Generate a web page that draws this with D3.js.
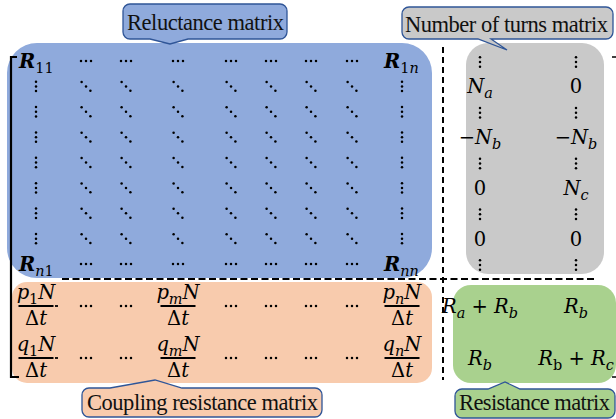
<!DOCTYPE html>
<html><head><meta charset="utf-8">
<script src="https://cdn.jsdelivr.net/npm/d3@7"></script>
<style>body{margin:0;background:#fff}svg{display:block}</style>
</head><body>
<svg id="chart" width="616" height="419"></svg>
<script>
// Block matrix of the coupled magnetic / electric circuit equations

const blockNames = ["Reluctance matrix", "Number of turns matrix", "Coupling resistance matrix", "Resistance matrix"];

// Reluctance block: corner entries, and the symbol used in every row (c = corner, h = ⋯, v = ⋮, d = ⋱)
const reluctanceCorners = ["R_{11}", "R_{1n}", "R_{n1}", "R_{nn}"];
const reluctancePattern = [
  ["c", "h", "h", "h", "h", "h", "h", "h", "c"],
  ["v", "d", "d", "d", "d", "d", "d", "d", "v"],
  ["v", "d", "d", "d", "d", "d", "d", "d", "v"],
  ["v", "d", "d", "d", "d", "d", "d", "d", "v"],
  ["v", "d", "d", "d", "d", "d", "d", "d", "v"],
  ["v", "d", "d", "d", "d", "d", "d", "d", "v"],
  ["v", "d", "d", "d", "d", "d", "d", "d", "v"],
  ["v", "d", "d", "d", "d", "d", "d", "d", "v"],
  ["c", "h", "h", "h", "h", "h", "h", "h", "c"]
];

// Number of turns block, two columns
const turnsColA = ["⋮", "N_{a}", "⋮", "−N_{b}", "⋮", "0", "⋮", "0", "⋮"];
const turnsColB = ["⋮", "0", "⋮", "−N_{b}", "⋮", "N_{c}", "⋮", "0", "⋮"];

// Coupling resistance block: numerators of the fractions, ⋯ between them
const couplingRowP = ["p_{1}N", "⋯", "⋯", "p_{m}N", "⋯", "⋯", "⋯", "⋯", "p_{n}N"];
const couplingRowQ = ["q_{1}N", "⋯", "⋯", "q_{m}N", "⋯", "⋯", "⋯", "⋯", "q_{n}N"];
const couplingDenominator = "Δt";

// Resistance block ([..] in a subscript = upright letters)
const resistanceRows = [
  ["R_{a} + R_{b}", "R_{b}"],
  ["R_{b}", "R_{[b]} + R_{c}"]
];

// ---------- layout ----------
const svg = d3.select("#chart");
const mathFont = "'DejaVu Serif', 'Liberation Serif', serif";
const mathSize = 19.5;

const colX = d3.scaleOrdinal().domain(d3.range(9)).range([36, 86, 126, 178, 231, 271, 311, 352, 402]);
const rowY = d3.scaleLinear().domain([0, 8]).range([61, 264]);
const rightColX = d3.scaleOrdinal().domain([0, 1]).range([480, 576]);
const lowerRowY = d3.scaleOrdinal().domain([0, 1]).range([306, 358]);

const colors = {
  blue: "#8faadc", gray: "#c9c9c9", orange: "#f8cbad", green: "#a9d18e", edge: "#2f5597"
};

// ---------- helpers ----------
function tokenize(str) {
  const out = [];
  let i = 0;
  while (i < str.length) {
    const ch = str[i];
    if (ch === "_" && str[i + 1] === "{") {
      const end = str.indexOf("}", i);
      const inner = str.slice(i + 2, end);
      let roman = false;
      for (const c of inner) {
        if (c === "[") { roman = true; continue; }
        if (c === "]") { roman = false; continue; }
        out.push({ t: c, italic: /[A-Za-z]/.test(c) && !roman, sub: true });
      }
      i = end + 1;
    } else {
      out.push({ t: ch, italic: /[A-Za-z]/.test(ch), sub: false });
      i++;
    }
  }
  return out;
}

function mathText(g, str, x, y, opts = {}) {
  const size = opts.size || mathSize;
  const t = g.append("text")
    .attr("x", x).attr("y", y)
    .attr("text-anchor", opts.anchor || "middle")
    .attr("font-family", mathFont)
    .attr("font-size", size)
    .attr("fill", "#000");
  const shift = size * 0.24;
  let inSub = false;
  tokenize(str).forEach(tok => {
    const s = t.append("tspan").text(tok.t === " " ? "\u00a0" : tok.t);
    if (tok.italic) s.attr("font-style", "italic");
    if (opts.bold && !tok.sub && tok.italic) s.attr("font-weight", "bold");
    if (tok.sub) s.attr("font-size", size * 0.74);
    if (tok.sub && !inSub) s.attr("dy", shift);
    if (!tok.sub && inSub) s.attr("dy", -shift);
    inSub = tok.sub;
  });
  return t;
}

const dotR = 1.25;
function dotOffsets(kind) {
  if (kind === "h") return [[-5, 0], [0, 0], [5, 0]];
  if (kind === "v") return [[0, -4.7], [0, 0], [0, 4.7]];
  return [[-4.4, -4.4], [0, 0], [4.4, 4.4]];
}
function drawDots(g, kind, cx, cy) {
  g.selectAll(null).data(dotOffsets(kind)).join("circle")
    .attr("cx", d => cx + d[0]).attr("cy", d => cy + d[1])
    .attr("r", dotR).attr("fill", "#000");
}

function roundedBox(g, x, y, w, h, r, fill) {
  g.append("rect").attr("x", x).attr("y", y).attr("width", w).attr("height", h)
    .attr("rx", r).attr("ry", r).attr("fill", fill);
}

function calloutPath(x, y, w, h, r, side, b1, tip, b2) {
  const p = d3.path();
  p.moveTo(x + r, y);
  if (side === "top") {
    p.lineTo(b1, y);
    p.lineTo(tip[0], tip[1]);
    p.lineTo(b2, y);
  }
  p.lineTo(x + w - r, y);
  p.arcTo(x + w, y, x + w, y + r, r);
  p.lineTo(x + w, y + h - r);
  p.arcTo(x + w, y + h, x + w - r, y + h, r);
  if (side === "bottom") {
    p.lineTo(b2, y + h);
    p.lineTo(tip[0], tip[1]);
    p.lineTo(b1, y + h);
  }
  p.lineTo(x + r, y + h);
  p.arcTo(x, y + h, x, y + h - r, r);
  p.lineTo(x, y + r);
  p.arcTo(x, y, x + r, y, r);
  p.closePath();
  return p.toString();
}

function callout(g, spec, fill) {
  g.append("path")
    .attr("d", calloutPath(spec.x, spec.y, spec.w, spec.h, 7, spec.side, spec.b1, spec.tip, spec.b2))
    .attr("fill", fill).attr("stroke", colors.edge).attr("stroke-width", 1.3);
  g.append("text")
    .attr("x", spec.tx).attr("y", spec.ty)
    .attr("font-family", "'Liberation Serif', serif")
    .attr("font-size", 22.5).attr("fill", "#111")
    .attr("textLength", spec.tw).attr("lengthAdjust", "spacing")
    .text(spec.label);
}

// ---------- background blocks ----------
const blocks = svg.append("g");
roundedBox(blocks, 7, 43, 425, 235, 30, colors.blue);
roundedBox(blocks, 466, 43, 138, 231, 22, colors.gray);
roundedBox(blocks, 12, 282, 420, 101, 15, colors.orange);
roundedBox(blocks, 453, 285, 163, 98, 18, colors.green);

// ---------- separators and brackets ----------
const lines = svg.append("g").attr("stroke", "#000").attr("fill", "none");
lines.append("line").attr("x1", 443).attr("x2", 443).attr("y1", 47).attr("y2", 380)
  .attr("stroke-width", 2).attr("stroke-dasharray", "6,4");
lines.append("line").attr("x1", 62).attr("x2", 597).attr("y1", 279).attr("y2", 279)
  .attr("stroke-width", 2).attr("stroke-dasharray", "7,3.5");
lines.append("path").attr("d", "M17,57H11V377H19").attr("stroke-width", 2.2);
lines.append("path").attr("d", "M612,57H618V377H612").attr("stroke-width", 1.6);

// ---------- reluctance block ----------
const rel = svg.append("g");
let cornerIdx = 0;
reluctancePattern.forEach((row, ri) => {
  row.forEach((kind, ci) => {
    if (kind === "c") {
      const label = reluctanceCorners[cornerIdx++];
      mathText(rel, label, ci === 0 ? 19 : 384, rowY(ri) + 7, { anchor: "start", bold: true });
    } else {
      drawDots(rel, kind, colX(ci), rowY(ri));
    }
  });
});

// ---------- number of turns block ----------
const turns = svg.append("g");
[turnsColA, turnsColB].forEach((col, k) => {
  col.forEach((entry, ri) => {
    if (entry === "⋮") drawDots(turns, "v", rightColX(k), rowY(ri) + 1);
    else mathText(turns, entry, rightColX(k), rowY(ri) + 7);
  });
});

// ---------- coupling resistance block ----------
const coup = svg.append("g");
[couplingRowP, couplingRowQ].forEach((row, ri) => {
  const yBar = lowerRowY(ri);
  row.forEach((entry, ci) => {
    const cx = colX(ci);
    if (entry === "⋯") {
      drawDots(coup, "h", cx, yBar);
      return;
    }
    const half = 17.5;
    coup.append("line").attr("x1", cx - half).attr("x2", cx + half)
      .attr("y1", yBar).attr("y2", yBar).attr("stroke", "#000").attr("stroke-width", 1.8);
    if (ci === 0) {
      coup.append("line").attr("x1", cx + half + 1.5).attr("x2", cx + half + 4.5)
        .attr("y1", yBar).attr("y2", yBar).attr("stroke", "#000").attr("stroke-width", 1.8);
    }
    mathText(coup, entry, cx, yBar - 7);
    mathText(coup, couplingDenominator, cx, yBar + 19);
  });
});

// ---------- resistance block ----------
const res = svg.append("g");
resistanceRows.forEach((row, ri) => {
  row.forEach((entry, ci) => {
    mathText(res, entry, rightColX(ci), lowerRowY(ri) + 7);
  });
});

// ---------- labelled callouts ----------
const labels = svg.append("g");
callout(labels, { label: blockNames[0], x: 123, y: 4, w: 164, h: 35, side: "bottom", b1: 150, tip: [170, 44], b2: 188, tx: 127, ty: 30, tw: 157 }, colors.blue);
callout(labels, { label: blockNames[1], x: 402, y: 7, w: 211, h: 32, side: "bottom", b1: 478, tip: [507, 50], b2: 491, tx: 405, ty: 32, tw: 203 }, colors.gray);
callout(labels, { label: blockNames[2], x: 82, y: 388, w: 240, h: 29, side: "top", b1: 110, tip: [155, 380], b2: 182, tx: 87, ty: 410, tw: 231 }, colors.orange);
callout(labels, { label: blockNames[3], x: 455, y: 389, w: 160, h: 29, side: "top", b1: 488, tip: [505, 382], b2: 520, tx: 459, ty: 410, tw: 151 }, colors.green);
</script>
</body></html>
